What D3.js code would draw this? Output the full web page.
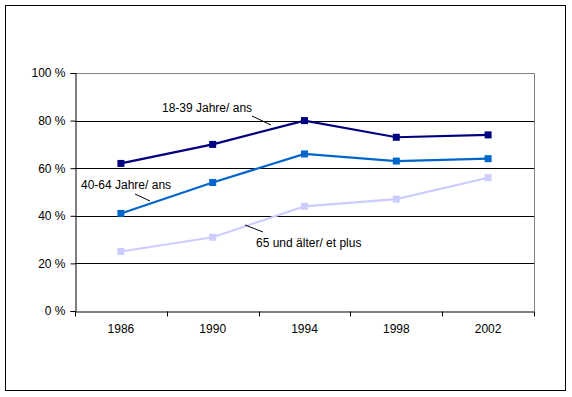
<!DOCTYPE html>
<html>
<head>
<meta charset="utf-8">
<script src="https://cdn.jsdelivr.net/npm/d3@7"></script>
<style>
  body { margin: 0; background: #fff; }
  text { font-family: "Liberation Sans", Arial, sans-serif; font-size: 12px; fill: #000; }
</style>
</head>
<body>
<div id="chart"></div>
<script>
// data
var years = ["1986", "1990", "1994", "1998", "2002"];
var young = [62, 70, 80, 73, 74];
var middle = [41, 54, 66, 63, 64];
var old = [25, 31, 44, 47, 56];
var yTicks = [0, 20, 40, 60, 80, 100];
var seriesNames = ["18-39 Jahre/ ans", "40-64 Jahre/ ans", "65 und älter/ et plus"];

var svgWidth = 572;
var svgHeight = 397;

var margin = { top: 73, left: 75, right: 38, bottom: 86 };
var width = svgWidth - margin.left - margin.right;
var height = svgHeight - margin.top - margin.bottom;

var svg = d3.select("#chart")
    .append("svg")
    .attr("width", svgWidth)
    .attr("height", svgHeight);

// outer frame
svg.append("rect")
    .attr("x", 5.5).attr("y", 5.5)
    .attr("width", 560).attr("height", 385)
    .attr("fill", "none")
    .attr("stroke", "#000");

var chartGroup = svg.append("g")
    .attr("transform", `translate(${margin.left}, ${margin.top})`);

var xBand = d3.scaleBand().domain(years).range([0, width]);
var yScale = d3.scaleLinear().domain([0, 100]).range([height, 0]);
var xPos = d => xBand(d) + xBand.bandwidth() / 2;

// plot area border (gray top and right)
chartGroup.append("path")
    .attr("d", `M0.5,0.5H${width + 0.5}V${height}`)
    .attr("fill", "none")
    .attr("stroke", "#808080");

// gridlines
chartGroup.selectAll(".grid")
    .data(yTicks.filter(t => t > 0 && t < 100))
    .enter()
    .append("line")
    .attr("x1", 0).attr("x2", width)
    .attr("y1", d => Math.round(yScale(d)) + 0.5)
    .attr("y2", d => Math.round(yScale(d)) + 0.5)
    .attr("stroke", "#000");

// y axis
var yAxis = d3.axisLeft(yScale)
    .tickValues(yTicks)
    .tickSize(5)
    .tickPadding(5)
    .tickFormat(d => d + " %");
var yG = chartGroup.append("g").attr("transform", "translate(0.5,0)").call(yAxis);
yG.selectAll("text").style("font-size", "12px").style("font-family", "Liberation Sans, Arial, sans-serif");

// x axis with ticks on band edges
var xAxis = d3.axisBottom(xBand).tickSize(0).tickPadding(13);
var xG = chartGroup.append("g").attr("transform", `translate(0, ${height + 0.5})`).call(xAxis);
xG.selectAll("text").style("font-size", "12px").style("font-family", "Liberation Sans, Arial, sans-serif");
xG.selectAll(".edge")
    .data(d3.range(years.length + 1))
    .enter()
    .append("line")
    .attr("x1", i => Math.round(i * xBand.bandwidth()) + 0.5)
    .attr("x2", i => Math.round(i * xBand.bandwidth()) + 0.5)
    .attr("y1", 0).attr("y2", 5)
    .attr("stroke", "#000");
yG.select(".domain").attr("stroke", "#000");
xG.select(".domain").attr("stroke", "#000");

// lines + square markers
var series = [
    { values: old, color: "#CCCCFF" },
    { values: middle, color: "#0066CC" },
    { values: young, color: "#000080" }
];

var line = d3.line()
    .x((d, i) => xPos(years[i]))
    .y(d => yScale(d));

series.forEach(function (s) {
    chartGroup.append("path")
        .datum(s.values)
        .attr("d", line)
        .attr("fill", "none")
        .attr("stroke", s.color)
        .attr("stroke-width", 2.2);

    chartGroup.selectAll(null)
        .data(s.values)
        .enter()
        .append("rect")
        .attr("x", (d, i) => xPos(years[i]) - 3.5)
        .attr("y", d => yScale(d) - 3.5)
        .attr("width", 7)
        .attr("height", 7)
        .attr("fill", s.color);
});

// series labels with leader lines
var labels = [
    { text: seriesNames[0], x: 87, y: 39, lx1: 177, ly1: 43, lx2: 196, ly2: 52 },
    { text: seriesNames[1], x: 6, y: 116, lx1: 60, ly1: 121, lx2: 75, ly2: 128 },
    { text: seriesNames[2], x: 181, y: 174, lx1: 170, ly1: 152, lx2: 188, ly2: 159 }
];

labels.forEach(function (l) {
    chartGroup.append("text")
        .attr("x", l.x)
        .attr("y", l.y)
        .text(l.text);
    chartGroup.append("line")
        .attr("x1", l.lx1).attr("y1", l.ly1)
        .attr("x2", l.lx2).attr("y2", l.ly2)
        .attr("stroke", "#000")
        .attr("stroke-width", 1);
});
</script>
</body>
</html>
